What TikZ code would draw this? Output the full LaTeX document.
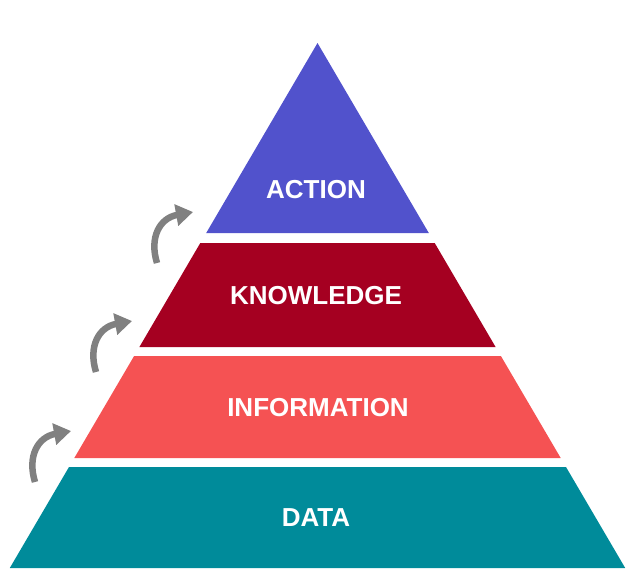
\documentclass[tikz,border=0pt]{standalone}
\usepackage{fontspec}
\setmainfont{Liberation Sans}
\usetikzlibrary{arrows.meta}
\definecolor{actionc}{HTML}{5152CC}
\definecolor{knowc}{HTML}{A50021}
\definecolor{infoc}{HTML}{F55253}
\definecolor{datac}{HTML}{008B9A}
\definecolor{arrowc}{HTML}{808080}
\tikzset{
  layer/.style={draw=none},
  label/.style={text=white, font=\fontsize{26}{30}\selectfont\bfseries, inner sep=0pt},
  stepup/.style={draw=arrowc, line width=6.5pt, -{Triangle[length=17pt,width=21pt]}}
}
\begin{document}
\begin{tikzpicture}[x=1pt, y=-1pt]
  \useasboundingbox (0,0) rectangle (626,582);
  % pyramid layers, top to bottom
  \fill[actionc] (317.5,43) -- (428.8,233) -- (206.2,233) -- cycle;
  \fill[knowc] (200.3,243) -- (434.7,243) -- (495.6,347) -- (139.4,347) -- cycle;
  \fill[infoc] (134.1,356) -- (500.9,356) -- (560.7,458) -- (74.3,458) -- cycle;
  \fill[datac] (69.0,467) -- (566.0,467) -- (625.2,568) -- (9.8,568) -- cycle;
  % labels
  \node[label] (action) at (316,190) {ACTION};
  \node[label] (knowledge) at (316,296) {KNOWLEDGE};
  \node[label] (information) at (318,408) {INFORMATION};
  \node[label] (data) at (316,518) {DATA};
  % curved arrows climbing the left side
  \foreach \dx/\dy [count=\i] in {0/0, 61/-110, 122/-219}{
    \begin{scope}[shift={(\dx,\dy)}]
      \coordinate (tail\i) at (35,482);
      \coordinate (tip\i) at (71,431);
      \draw[stepup] (tail\i) .. controls (27,456) and (38,437) .. (tip\i);
    \end{scope}
  }
\end{tikzpicture}
\end{document}
